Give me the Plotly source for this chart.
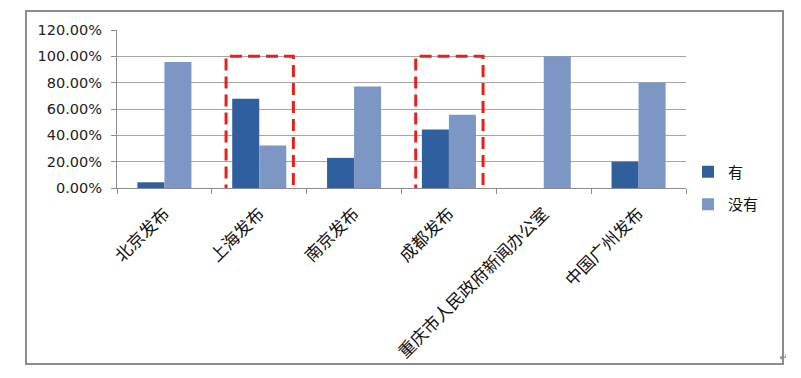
import plotly.graph_objects as go

categories = ["北京发布", "上海发布", "南京发布", "成都发布", "重庆市人民政府新闻办公室", "中国广州发布"]
series_names = ["有", "没有"]
you = [4.35, 67.7, 22.9, 44.4, 0.0, 20.0]
meiyou = [95.65, 32.3, 77.1, 55.6, 100.0, 80.0]
y_ticks = [0, 20, 40, 60, 80, 100, 120]
highlight = [1, 3]  # indices of categories boxed in red

OFF = 8  # page body margin in the browser
W, H = 801 - OFF, 378 - OFF
L, R, T, B = 117 - OFF, 686 - OFF, 30 - OFF, 188 - OFF  # plot area in figure pixels


def px_x(p):
    return (p - OFF - L) / (R - L)


def px_y(p):
    return (B - (p - OFF)) / (B - T)


fig = go.Figure()
fig.add_trace(go.Bar(x=categories, y=you, name=series_names[0],
                     marker=dict(color="#2f5f9f", line=dict(width=0)), legendgroup="a"))
fig.add_trace(go.Bar(x=categories, y=meiyou, name=series_names[1],
                     marker=dict(color="#7d97c4", line=dict(width=0)), legendgroup="b"))

shapes = []
for i in highlight:
    shapes.append(dict(type="rect", xref="x", yref="y", x0=i - 0.35, x1=i + 0.36,
                       y0=-1.2, y1=100, line=dict(color="#e8201c", width=3, dash="12px,6px"),
                       fillcolor="rgba(0,0,0,0)", layer="above"))
# outer chart border
shapes.append(dict(type="rect", xref="paper", yref="paper",
                   x0=px_x(26), x1=px_x(783), y0=px_y(364), y1=px_y(11),
                   line=dict(color="#8c8c8c", width=2), fillcolor="rgba(0,0,0,0)", layer="below"))

fig.update_layout(
    width=W, height=H,
    margin=dict(l=L, r=W - R, t=T, b=H - B, pad=0, autoexpand=False),
    paper_bgcolor="white", plot_bgcolor="white",
    barmode="group", bargap=0.43, bargroupgap=0,
    font=dict(family="Noto Sans CJK SC, DejaVu Sans", color="#111111"),
    showlegend=True,
    legend=dict(x=px_x(688), y=px_y(188), xanchor="left", yanchor="middle",
                font=dict(size=15, family="Noto Sans CJK SC", color="#111111"),
                traceorder="grouped", tracegroupgap=10, bgcolor="rgba(0,0,0,0)",
                itemwidth=30),
    shapes=shapes,
    annotations=[dict(text="↵", x=px_x(789), y=px_y(366), xref="paper", yref="paper",
                      showarrow=False, font=dict(size=10, color="#888888"))],
)
fig.update_xaxes(type="category", tickson="boundaries", ticks="outside", ticklen=5,
                 tickcolor="#8c8c8c", showline=True, linecolor="#8c8c8c", linewidth=1,
                 showgrid=False, tickangle=-45, ticklabelstandoff=8, automargin=False,
                 tickfont=dict(size=17, family="Noto Sans CJK SC", color="#111111"))
fig.update_yaxes(range=[0, 120], tickvals=y_ticks,
                 ticktext=[f"{v:.2f}%" for v in y_ticks],
                 ticks="outside", ticklen=5, tickcolor="#8c8c8c",
                 showline=True, linecolor="#8c8c8c", linewidth=1,
                 showgrid=True, gridcolor="#a6a6a6", gridwidth=1, zeroline=False,
                 ticklabelstandoff=6, automargin=False,
                 tickfont=dict(size=14.5, family="DejaVu Sans", color="#222222"))

fig.write_html("out.html")
